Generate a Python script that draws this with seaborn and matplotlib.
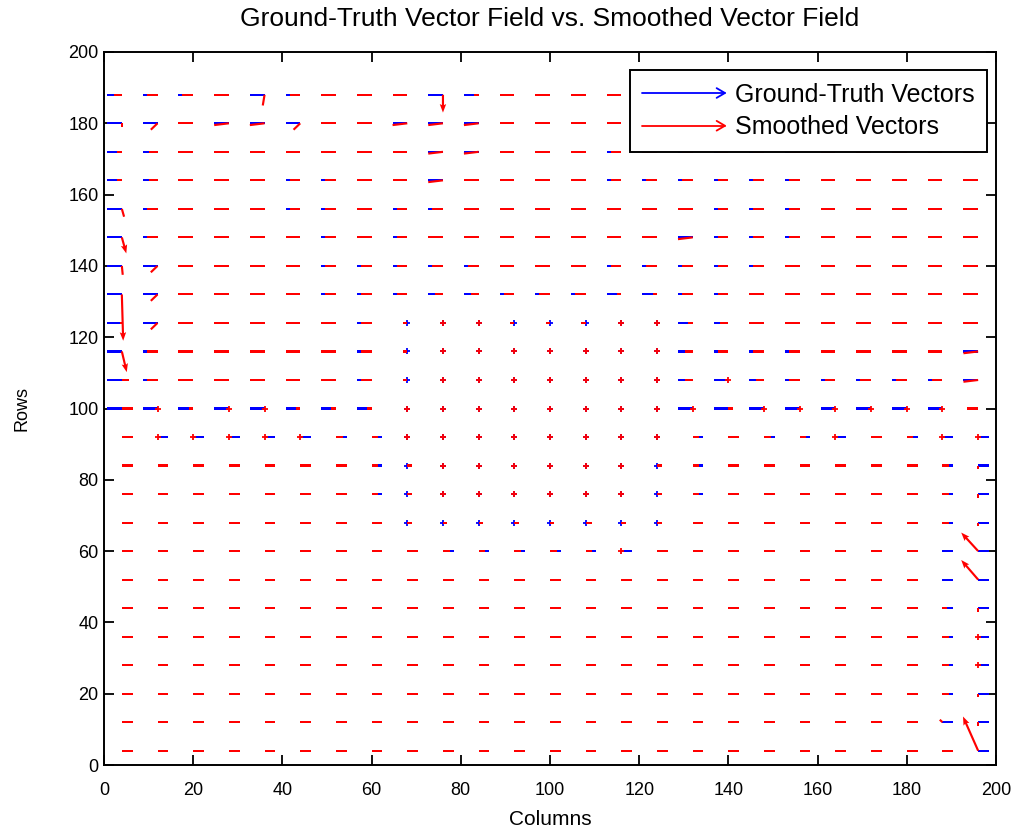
import numpy as np
import seaborn as sns
import matplotlib
matplotlib.use("Agg")
import matplotlib.pyplot as plt
from matplotlib.lines import Line2D
from matplotlib.legend_handler import HandlerBase

# ---------------- data ----------------
columns = [4, 12, 20, 28, 36, 44, 52, 60, 68, 76, 84, 92, 100,
           108, 116, 124, 132, 140, 148, 156, 164, 172, 180, 188, 196]
rows = [188, 180, 172, 164, 156, 148, 140, 132, 124, 116, 108, 100,
        92, 84, 76, 68, 60, 52, 44, 36, 28, 20, 12, 4]

# vector codes -> (u, v) in data units; '+' = zero vector, 'x' = drawn as long arrow, '0' = nothing
vector_codes = {
    '<': (-3.3, 0.0), '[': (-2.4, 0.0), '{': (-1.8, 0.0), '(': (-1.0, 0.0), '.': (-0.5, 0.0),
    '>': (2.4, 0.0), ']': (1.5, 0.0), ')': (1.0, 0.0),
    'd': (-3.3, -0.5), 's': (-1.5, -1.8), 'v': (0.0, -1.0), 'w': (-0.4, -3.0),
    'h': (0.5, -2.2), 'k': (0.2, -2.5), 'u': (-0.6, 0.7),
}

smoothed_rows = [
    "{[[<w[<<<x(<<<<<<<<<<<<<<",
    "vs<dds<<ddd<<<<<<<<<<<<<<",
    "({<<<<<<<dd<<<[<[[[[<<<<<",
    "({<<<[[<<d<<<<[[[[[[<<<<<",
    "h[<<<[[<[[<<<<<<<[[[<<<<<",
    "x[<<<<[<[<<<<<<<d[[[<<<<<",
    "ks<<<<[[[[[<<<[[[[[<<<<<<",
    "xs<<<<[[[{{[[[(([[<<<<<<<",
    ".s<<<<<[(++(((++({<<<<<<<",
    "x[<<<<<[(+++++++{[[[<<<<d",
    "][<<<<<[(+++++++{+{[[[[[d",
    ">+(++(((+++++++++)++++++[",
    ">+++++]]++++++++]>]]+>]++",
    ">>>>>>>])++++++)]>>>>>>]v",
    ">>>>>>>])++++++)]>>>>>>]v",
    ">>>>>>>>)))))]))>>>>>>>]v",
    ">>>>>>>>>]]]]]+>>>>>>>>0x",
    ">>>>>>>>>>>>>>>>>>>>>>>0x",
    ">>>>>>>>>>>>>>>>>>>>>>>)v",
    ">>>>>>>>>>>>>>>>>>>>>>>]+",
    ">>>>>>>>>>>>>>>>>>>>>>>]+",
    ">>>>>>>>>>>>>>>>>>>>>>>]v",
    ">>>>>>>>>>>>>>>>>>>>>>>uv",
    ">>>>>>>>>>>>>>>>>>>>>>>>x",
]

ground_truth_rows = [
    "<<<<<<<<<<<<<<<<<<<<<<<<<",
    "<<<<<<<<<<<<<<<<<<<<<<<<<",
    "<<<<<<<<<<<<<<<<<<<<<<<<<",
    "<<<<<<<<<<<<<<<<<<<<<<<<<",
    "<<<<<<<<<<<<<<<<<<<<<<<<<",
    "<<<<<<<<<<<<<<<<<<<<<<<<<",
    "<<<<<<<<<<<<<<<<<<<<<<<<<",
    "<<<<<<<<<<<<<<<<<<<<<<<<<",
    "<<<<<<<<++++++++<<<<<<<<<",
    "<<<<<<<<++++++++<<<<<<<<<",
    "<<<<<<<<++++++++<<<<<<<<<",
    "<<<<<<<<++++++++<<<<<<<<[",
    ">>>>>>>>++++++++>>>>>>>>>",
    ">>>>>>>>++++++++>>>>>>>>>",
    ">>>>>>>>++++++++>>>>>>>>>",
    ">>>>>>>>++++++++>>>>>>>>>",
    ">>>>>>>>>>>>>>>>>>>>>>>>>",
    ">>>>>>>>>>>>>>>>>>>>>>>>>",
    ">>>>>>>>>>>>>>>>>>>>>>>>>",
    ">>>>>>>>>>>>>>>>>>>>>>>>>",
    ">>>>>>>>>>>>>>>>>>>>>>>>>",
    ">>>>>>>>>>>>>>>>>>>>>>>>>",
    ">>>>>>>>>>>>>>>>>>>>>>>>>",
    ">>>>>>>>>>>>>>>>>>>>>>>>>",
]

# long smoothed vectors (drawn with arrow heads)
long_x = [76, 4, 4, 4, 196, 196, 196]
long_y = [188, 148, 132, 116, 60, 52, 4]
long_u = [0.0, 1.0, 0.3, 1.1, -3.8, -3.8, -3.4]
long_v = [-5.0, -4.5, -13.0, -5.8, 5.2, 5.5, 9.6]

x_ticks = [0, 20, 40, 60, 80, 100, 120, 140, 160, 180, 200]
y_ticks = [0, 20, 40, 60, 80, 100, 120, 140, 160, 180, 200]

title_text = "Ground-Truth Vector Field vs. Smoothed Vector Field"
legend_labels = ["Ground-Truth Vectors", "Smoothed Vectors"]


def build_field(code_rows):
    vx, vy, vu, vv, zx, zy = [], [], [], [], [], []
    for yv, row in zip(rows, code_rows):
        for xv, c in zip(columns, row):
            if c == '+':
                zx.append(xv); zy.append(yv)
            elif c in vector_codes:
                u, v = vector_codes[c]
                vx.append(xv); vy.append(yv); vu.append(u); vv.append(v)
    return vx, vy, vu, vv, zx, zy


# ---------------- style ----------------
sns.set_theme(style="ticks")
plt.rcParams['font.family'] = ['Liberation Sans', 'DejaVu Sans']
plt.rcParams['text.color'] = 'black'
plt.rcParams['axes.labelcolor'] = 'black'

fig = plt.figure(figsize=(10.24, 8.33), dpi=100)
fig.patch.set_facecolor('white')
ax = fig.add_axes([104 / 1024, 1 - 765 / 833, 892 / 1024, 713 / 833])
ax.set_facecolor('white')

BLUE = (0, 0, 1)
RED = (1, 0, 0)
W = 0.0024

bx, by, bu, bv, bzx, bzy = build_field(ground_truth_rows)
rx, ry, ru, rv, rzx, rzy = build_field(smoothed_rows)

ax.quiver(bx, by, bu, bv, color=BLUE, angles='xy', scale_units='xy', scale=1,
          width=W, headwidth=0, headlength=0, headaxislength=0, zorder=2)
sns.scatterplot(x=bzx, y=bzy, marker='+', s=16, color=BLUE, linewidth=1.3,
                ax=ax, legend=False, zorder=2.5)
ax.quiver(rx, ry, ru, rv, color=RED, angles='xy', scale_units='xy', scale=1,
          width=W, headwidth=0, headlength=0, headaxislength=0, zorder=3)
sns.scatterplot(x=rzx, y=rzy, marker='+', s=16, color=RED, linewidth=1.3,
                ax=ax, legend=False, zorder=3.5)
ax.quiver(long_x, long_y, long_u, long_v, color=RED, angles='xy', scale_units='xy', scale=1,
          width=W, headwidth=3, headlength=4, headaxislength=3.5, zorder=3.6)

ax.set_xlim(0, 200)
ax.set_ylim(0, 200)
ax.set_xticks(x_ticks)
ax.set_yticks(y_ticks)
ax.tick_params(direction='in', length=7, width=1.3, top=True, right=True,
               labelsize=13, colors='black')
ax.tick_params(axis='x', pad=12)
ax.tick_params(axis='y', pad=4)
for sp in ax.spines.values():
    sp.set_visible(True)
    sp.set_linewidth(1.4)
    sp.set_color('black')

ax.set_title(title_text, fontsize=19, pad=19, color='black')
ax.set_xlabel("Columns", fontsize=15, labelpad=8, color='black')
ax.set_ylabel("Rows", fontsize=13, labelpad=27, color='black')


class ArrowHandler(HandlerBase):
    def create_artists(self, legend, orig_handle, xdescent, ydescent,
                       width, height, fontsize, trans):
        color = orig_handle.get_color()
        y = 0.5 * height - ydescent
        x0, x1 = -xdescent, width - xdescent
        shaft = Line2D([x0, x1], [y, y], color=color, lw=1.3, transform=trans)
        head = Line2D([x1 - 6, x1, x1 - 6], [y + 3.5, y, y - 3.5], color=color,
                      lw=1.3, transform=trans)
        return [shaft, head]


handles = [Line2D([], [], color=BLUE), Line2D([], [], color=RED)]
leg = ax.legend(handles, legend_labels, loc='lower right',
                bbox_to_anchor=(0.990, (765 - 152) / 713), borderaxespad=0,
                fontsize=18, handlelength=3.3, handletextpad=0.4, labelspacing=0.35,
                borderpad=0.5, fancybox=False, framealpha=1, edgecolor='black',
                handler_map={Line2D: ArrowHandler()})
leg.get_frame().set_linewidth(1.4)
leg.set_zorder(10)

fig.savefig("out.png", dpi=100, facecolor='white')
